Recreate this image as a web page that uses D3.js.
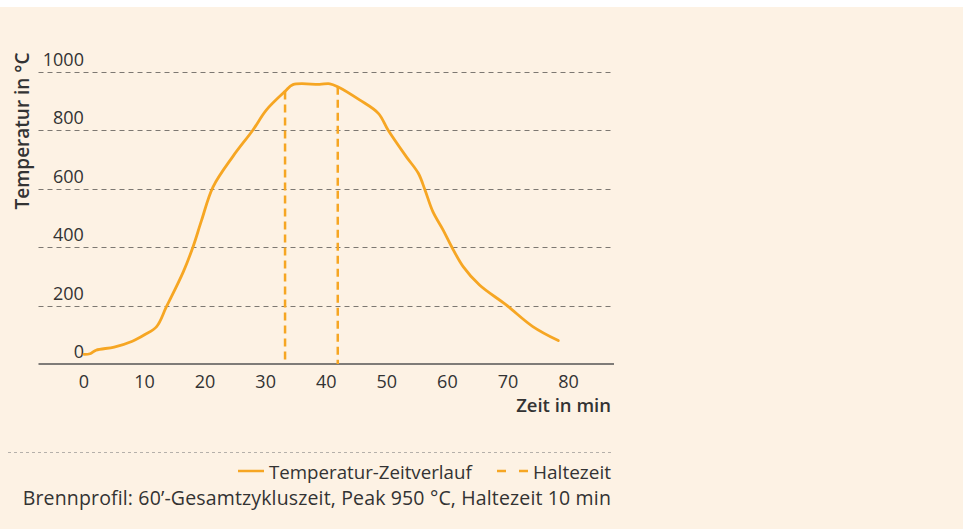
<!DOCTYPE html>
<html>
<head>
<meta charset="utf-8">
<script src="https://cdn.jsdelivr.net/npm/d3@7"></script>
<style>
  body { margin: 0; background: #fff; }
  svg { display: block; font-family: "Open Sans", sans-serif; }
</style>
</head>
<body>
<div id="chart"></div>
<script>
// Brennprofil: Zeit (min) und Temperatur (°C)
var zeit = [0, 1, 2, 5, 8, 10, 12, 13.6, 16.4, 18, 19.4, 21.3, 24.6, 27.9, 30.1, 33.2, 34.5, 38.9, 40.6, 41.9,
            45.5, 48.6, 50.2, 53.2, 55.2, 56.3, 57.6, 59.3, 60.7, 62.6, 65.3, 69.7, 74.1, 78.3]
var temperatur = [33, 35, 47, 58, 78, 100, 128, 195, 315, 400, 490, 605, 710, 800, 868, 932, 955, 956, 958, 948,
                  903, 857, 800, 709, 652, 595, 521, 458, 401, 333, 270, 202, 128, 80]
var haltezeit = [33.2, 41.9]
var haltezeitTemp = [932, 948]
var xTicks = [0, 10, 20, 30, 40, 50, 60, 70, 80]
var yTicks = [0, 200, 400, 600, 800, 1000]

var width = 963, height = 529
var orange = "#f6a623", textColor = "#333"

var svg = d3.select("#chart")
  .append("svg")
  .attr("width", width)
  .attr("height", height)

svg.append("rect")
  .attr("x", 0).attr("y", 7)
  .attr("width", width).attr("height", height - 7)
  .attr("fill", "#fdf2e4")

var x = d3.scaleLinear().domain([-7.5, 87.5]).range([38.5, 614])
var y = d3.scaleLinear().domain([0, 1000]).range([364, 71.5])

// gridlines
svg.selectAll(".grid")
  .data(yTicks.filter(function(d) { return d > 0 }))
  .enter().append("line")
  .attr("x1", x(-7.5)).attr("x2", x(87.5))
  .attr("y1", function(d) { return Math.round(y(d)) + 0.5 })
  .attr("y2", function(d) { return Math.round(y(d)) + 0.5 })
  .attr("stroke", "#7d7872")
  .attr("stroke-width", 1)
  .attr("stroke-dasharray", "5,4")

// y labels
svg.selectAll(".ylab")
  .data(yTicks)
  .enter().append("text")
  .text(function(d) { return d })
  .attr("x", x(0))
  .attr("y", function(d) { return y(d) - 6 })
  .attr("text-anchor", "end")
  .attr("font-size", "18px")
  .attr("fill", textColor)

// x axis
svg.append("line")
  .attr("x1", x(-7.5)).attr("x2", x(87.5))
  .attr("y1", y(0)).attr("y2", y(0))
  .attr("stroke", "#555")
  .attr("stroke-width", 1.5)

svg.selectAll(".xlab")
  .data(xTicks)
  .enter().append("text")
  .text(function(d) { return d })
  .attr("x", function(d) { return x(d) })
  .attr("y", 388)
  .attr("text-anchor", "middle")
  .attr("font-size", "18px")
  .attr("fill", textColor)

// axis titles
svg.append("text")
  .text("Temperatur in °C")
  .attr("transform", "translate(29,131) rotate(-90)")
  .attr("text-anchor", "middle")
  .attr("font-size", "19px")
  .attr("font-weight", 600)
  .attr("fill", textColor)

svg.append("text")
  .text("Zeit in min")
  .attr("x", 611)
  .attr("y", 412)
  .attr("text-anchor", "end")
  .attr("font-size", "18.5px")
  .attr("font-weight", 600)
  .attr("fill", textColor)

// Haltezeit
svg.selectAll(".halt")
  .data(haltezeit)
  .enter().append("line")
  .attr("x1", function(d) { return x(d) })
  .attr("x2", function(d) { return x(d) })
  .attr("y1", function(d, i) { return y(haltezeitTemp[i]) })
  .attr("y2", y(0))
  .attr("stroke", orange)
  .attr("stroke-width", 2.5)
  .attr("stroke-dasharray", "8,5")

// temperature curve
var line = d3.line()
  .x(function(d) { return x(d[0]) })
  .y(function(d) { return y(d[1]) })
  .curve(d3.curveCatmullRom.alpha(0.5))

svg.append("path")
  .datum(d3.zip(zeit, temperatur))
  .attr("d", line)
  .attr("fill", "none")
  .attr("stroke", orange)
  .attr("stroke-width", 2.8)
  .attr("stroke-linejoin", "round")
  .attr("stroke-linecap", "round")

// legend
svg.append("line")
  .attr("x1", 8).attr("x2", 614)
  .attr("y1", 452.5).attr("y2", 452.5)
  .attr("stroke", "#b5b0aa")
  .attr("stroke-width", 1)
  .attr("stroke-dasharray", "3,3")

svg.append("line")
  .attr("x1", 238).attr("x2", 264)
  .attr("y1", 471).attr("y2", 471)
  .attr("stroke", orange)
  .attr("stroke-width", 2.5)

svg.append("text")
  .text("Temperatur-Zeitverlauf")
  .attr("x", 269)
  .attr("y", 479)
  .attr("font-size", "18.7px")
  .attr("fill", textColor)

svg.append("line")
  .attr("x1", 497).attr("x2", 529)
  .attr("y1", 471).attr("y2", 471)
  .attr("stroke", orange)
  .attr("stroke-width", 2.5)
  .attr("stroke-dasharray", "9,13")

svg.append("text")
  .text("Haltezeit")
  .attr("x", 611)
  .attr("y", 479)
  .attr("text-anchor", "end")
  .attr("font-size", "19px")
  .attr("fill", textColor)

svg.append("text")
  .text("Brennprofil: 60\u2019-Gesamtzykluszeit, Peak 950 °C, Haltezeit 10 min")
  .attr("x", 611)
  .attr("y", 505)
  .attr("text-anchor", "end")
  .attr("font-size", "19.5px")
  .attr("letter-spacing", "0.15px")
  .attr("fill", textColor)
</script>
</body>
</html>
